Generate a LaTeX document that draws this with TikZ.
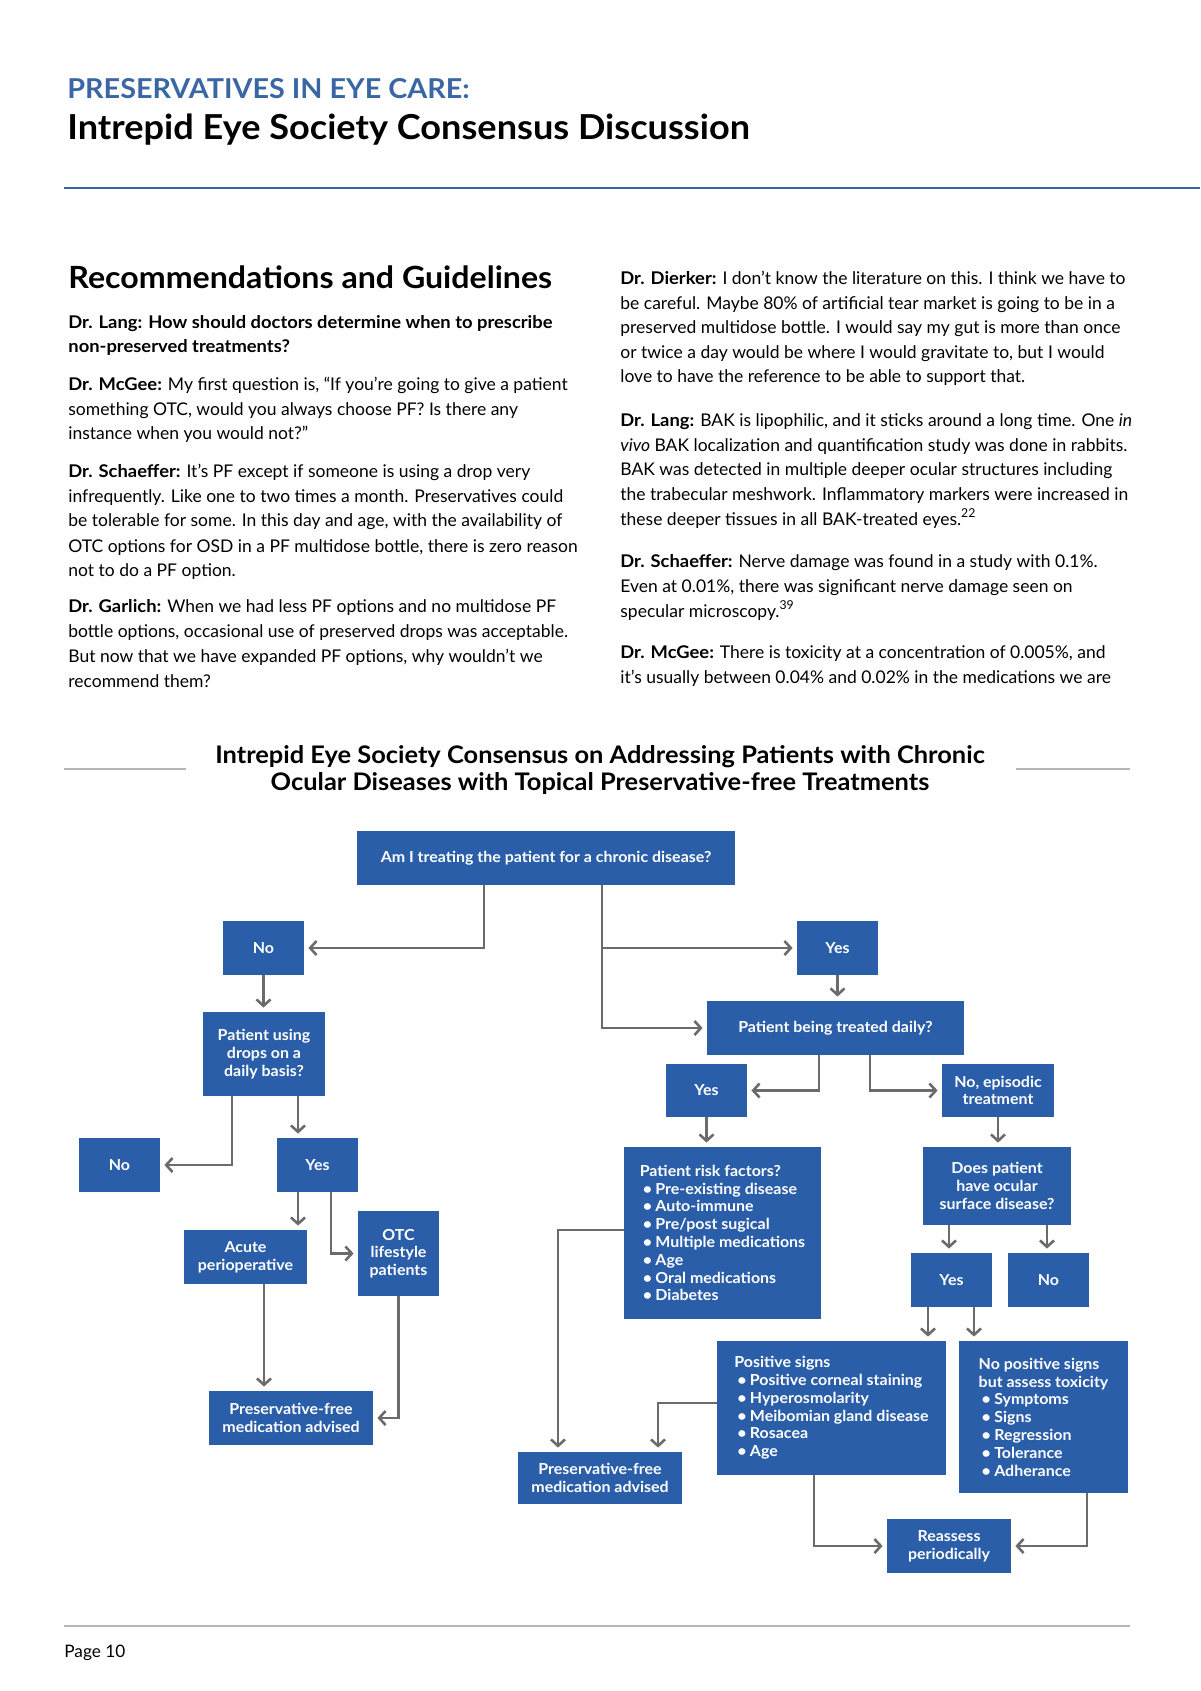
\documentclass[tikz,border=0pt]{standalone}
\usepackage{fontspec}
\setmainfont{Lato}[BoldFeatures={FakeStretch=1.05}]
\usetikzlibrary{arrows.meta}
\definecolor{hdrblue}{HTML}{3A67A4}
\definecolor{boxblue}{HTML}{2B5EA8}
\definecolor{arrgray}{HTML}{6B6B6B}
\definecolor{rulegray}{HTML}{B5B5B5}
\definecolor{topruleblue}{HTML}{3D6499}
\tikzset{
  fcb/.style={fill=boxblue, text=white, font=\fontsize{7.6}{8.9}\selectfont\bfseries, align=center, inner sep=0pt},
  fcl/.style={fcb, align=left},
  arr/.style={draw=arrgray, line width=1.3pt, -{Straight Barb[length=3.2pt,width=7pt]}, shorten >=2pt},
  body/.style={anchor=base west, inner sep=0pt, font=\fontsize{8.75}{12}\selectfont},
  ctitle/.style={anchor=base, inner sep=0pt, font=\fontsize{12.1}{14}\selectfont\bfseries},
}
\newcommand\fcbox[7][fcb]{\node[#1, minimum width={(#5-#3)*0.5pt}, minimum height={(#6-#4)*0.5pt}] (#2) at ({(#3+#5)/2},{(#4+#6)/2}) {#7};}
\newcommand\bul[1]{\hspace*{1.5pt}\makebox[6.3pt][l]{\textbullet}#1}
\begin{document}
\begin{tikzpicture}[x=0.5pt,y=-0.5pt]
\useasboundingbox (0,0) rectangle (1200,1691);
% header
\node[anchor=base west, inner sep=0pt, text=hdrblue, font=\fontsize{13.7}{15}\selectfont\bfseries] (h1) at (67,98) {PRESERVATIVES IN EYE CARE:};
\node[anchor=base west, inner sep=0pt, font=\fontsize{17.2}{20}\selectfont\bfseries] (h2) at (67,140) {Intrepid Eye Society Consensus Discussion};
\draw[topruleblue, line width=1pt] (64,188) -- (1200,188);
% left column
\node[anchor=base west, inner sep=0pt, font=\fontsize{15.3}{17}\selectfont\bfseries] (h3) at (68,288) {Recommendations and Guidelines};
\node[body] (l1) at (68,328) {\textbf{Dr. Lang: How should doctors determine when to prescribe}};
\node[body] (l2) at (68,352) {\textbf{non-preserved treatments?}};
\node[body] (l3) at (68,390) {\textbf{Dr. McGee:} My first question is, “If you’re going to give a patient};
\node[body] (l4) at (68,415) {something OTC, would you always choose PF? Is there any};
\node[body] (l5) at (68,439) {instance when you would not?”};
\node[body] (l6) at (68,477) {\textbf{Dr. Schaeffer:} It’s PF except if someone is using a drop very};
\node[body] (l7) at (68,502) {infrequently. Like one to two times a month. Preservatives could};
\node[body] (l8) at (68,526) {be tolerable for some. In this day and age, with the availability of};
\node[body] (l9) at (68,552) {OTC options for OSD in a PF multidose bottle, there is zero reason};
\node[body] (l10) at (68,576) {not to do a PF option.};
\node[body] (l11) at (68,612) {\textbf{Dr. Garlich:} When we had less PF options and no multidose PF};
\node[body] (l12) at (68,637) {bottle options, occasional use of preserved drops was acceptable.};
\node[body] (l13) at (68,662) {But now that we have expanded PF options, why wouldn’t we};
\node[body] (l14) at (68,687) {recommend them?};
% right column
\node[body] (r1) at (620,284) {\textbf{Dr. Dierker:} I don’t know the literature on this. I think we have to};
\node[body] (r2) at (620,309) {be careful. Maybe 80\% of artificial tear market is going to be in a};
\node[body] (r3) at (620,333) {preserved multidose bottle. I would say my gut is more than once};
\node[body] (r4) at (620,358) {or twice a day would be where I would gravitate to, but I would};
\node[body] (r5) at (620,382) {love to have the reference to be able to support that.};
\node[body] (r6) at (620,426) {\textbf{Dr. Lang:} BAK is lipophilic, and it sticks around a long time. One \textit{in}};
\node[body] (r7) at (620,451) {\textit{vivo} BAK localization and quantification study was done in rabbits.};
\node[body] (r8) at (620,475) {BAK was detected in multiple deeper ocular structures including};
\node[body] (r9) at (620,500) {the trabecular meshwork. Inflammatory markers were increased in};
\node[body] (r10) at (620,525) {these deeper tissues in all BAK-treated eyes.\textsuperscript{22}};
\node[body] (r11) at (620,567) {\textbf{Dr. Schaeffer:} Nerve damage was found in a study with 0.1\%.};
\node[body] (r12) at (620,592) {Even at 0.01\%, there was significant nerve damage seen on};
\node[body] (r13) at (620,617) {specular microscopy.\textsuperscript{39}};
\node[body] (r14) at (620,658) {\textbf{Dr. McGee:} There is toxicity at a concentration of 0.005\%, and};
\node[body] (r15) at (620,683) {it’s usually between 0.04\% and 0.02\% in the medications we are};
% chart title
\node[ctitle] (ct1) at (600,763) {Intrepid Eye Society Consensus on Addressing Patients with Chronic};
\node[ctitle] (ct2) at (600,790) {Ocular Diseases with Topical Preservative-free Treatments};
\draw[rulegray, line width=0.8pt] (64,769) -- (186,769);
\draw[rulegray, line width=0.8pt] (1016,769) -- (1130,769);
% boxes
\fcbox{A}{357}{831}{735}{885}{Am I treating the patient for a chronic disease?}
\fcbox{N1}{223}{921}{304}{975}{No}
\fcbox{Y1}{797}{921}{878}{975}{Yes}
\fcbox{PBT}{707}{1001}{964}{1055}{Patient being treated daily?}
\fcbox{PUD}{203}{1012}{325}{1096}{Patient using\\drops on a\\daily basis?}
\fcbox{Yes2}{666}{1064}{747}{1117}{Yes}
\fcbox{Epi}{942}{1064}{1054}{1117}{No, episodic\\treatment}
\fcbox{No2}{79}{1138}{160}{1192}{No}
\fcbox{Yes4}{277}{1138}{358}{1192}{Yes}
\fcbox[fcl]{RF}{624}{1147}{821}{1319}{Patient risk factors?\\\bul{Pre-existing disease}\\\bul{Auto-immune}\\\bul{Pre/post sugical}\\\bul{Multiple medications}\\\bul{Age}\\\bul{Oral medications}\\\bul{Diabetes}}
\fcbox{DP}{923}{1147}{1071}{1225}{Does patient\\have ocular\\surface disease?}
\fcbox{OTC}{358}{1211}{439}{1296}{OTC\\lifestyle\\patients}
\fcbox{Acute}{184}{1230}{307}{1284}{Acute\\perioperative}
\fcbox{Yes3}{911}{1253}{992}{1307}{Yes}
\fcbox{No3}{1008}{1253}{1089}{1307}{No}
\fcbox[fcl]{PS}{717}{1341}{946}{1475}{Positive signs\\\bul{Positive corneal staining}\\\bul{Hyperosmolarity}\\\bul{Meibomian gland disease}\\\bul{Rosacea}\\\bul{Age}}
\fcbox[fcl]{NPS}{959}{1341}{1128}{1493}{No positive signs\\but assess toxicity\\\bul{Symptoms}\\\bul{Signs}\\\bul{Regression}\\\bul{Tolerance}\\\bul{Adherance}}
\fcbox{PF1}{209}{1391}{373}{1445}{Preservative-free\\medication advised}
\fcbox{PF2}{518}{1452}{682}{1504}{Preservative-free\\medication advised}
\fcbox{RA}{887}{1519}{1011}{1573}{Reassess\\periodically}
% connectors
\draw[arr] (A.south -| 484,0) |- (N1.east);
\draw[arr] (A.south -| 602,0) |- (Y1.west);
\draw[arr] (A.south -| 602,0) |- (PBT.west);
\draw[arr] (Y1.south) -- (Y1.south |- PBT.north);
\draw[arr] (N1.south) -- (N1.south |- PUD.north);
\draw[arr] (PUD.south -| 232,0) |- (No2.east);
\draw[arr] (PUD.south -| 298,0) -- (298,0 |- Yes4.north);
\draw[arr] (Yes4.south -| 298,0) -- (298,0 |- Acute.north);
\draw[arr] (Yes4.south -| 331,0) |- (OTC.west);
\draw[arr] (Acute.south -| 264,0) -- (264,0 |- PF1.north);
\draw[arr] (OTC.south) |- (PF1.east);
\draw[arr] (PBT.south -| 819,0) |- (Yes2.east);
\draw[arr] (PBT.south -| 870,0) |- (Epi.west);
\draw[arr] (Yes2.south) -- (Yes2.south |- RF.north);
\draw[arr] (Epi.south) -- (Epi.south |- DP.north);
\draw[arr] (DP.south -| 949,0) -- (949,0 |- Yes3.north);
\draw[arr] (DP.south -| 1047,0) -- (1047,0 |- No3.north);
\draw[arr] (Yes3.south -| 928,0) -- (928,0 |- PS.north);
\draw[arr] (Yes3.south -| 974,0) -- (974,0 |- NPS.north);
\draw[arr] (RF.west |- 0,1230) -| (558,0 |- PF2.north);
\draw[arr] (PS.west |- 0,1403) -| (658,0 |- PF2.north);
\draw[arr] (PS.south -| 814,0) |- (RA.west);
\draw[arr] (NPS.south -| 1087,0) |- (RA.east);
% footer
\draw[rulegray, line width=1pt] (64,1626) -- (1130,1626);
\node[anchor=base west, inner sep=0pt, font=\fontsize{8.6}{10}\selectfont] (pg) at (64,1657) {Page 10};
\end{tikzpicture}
\end{document}
